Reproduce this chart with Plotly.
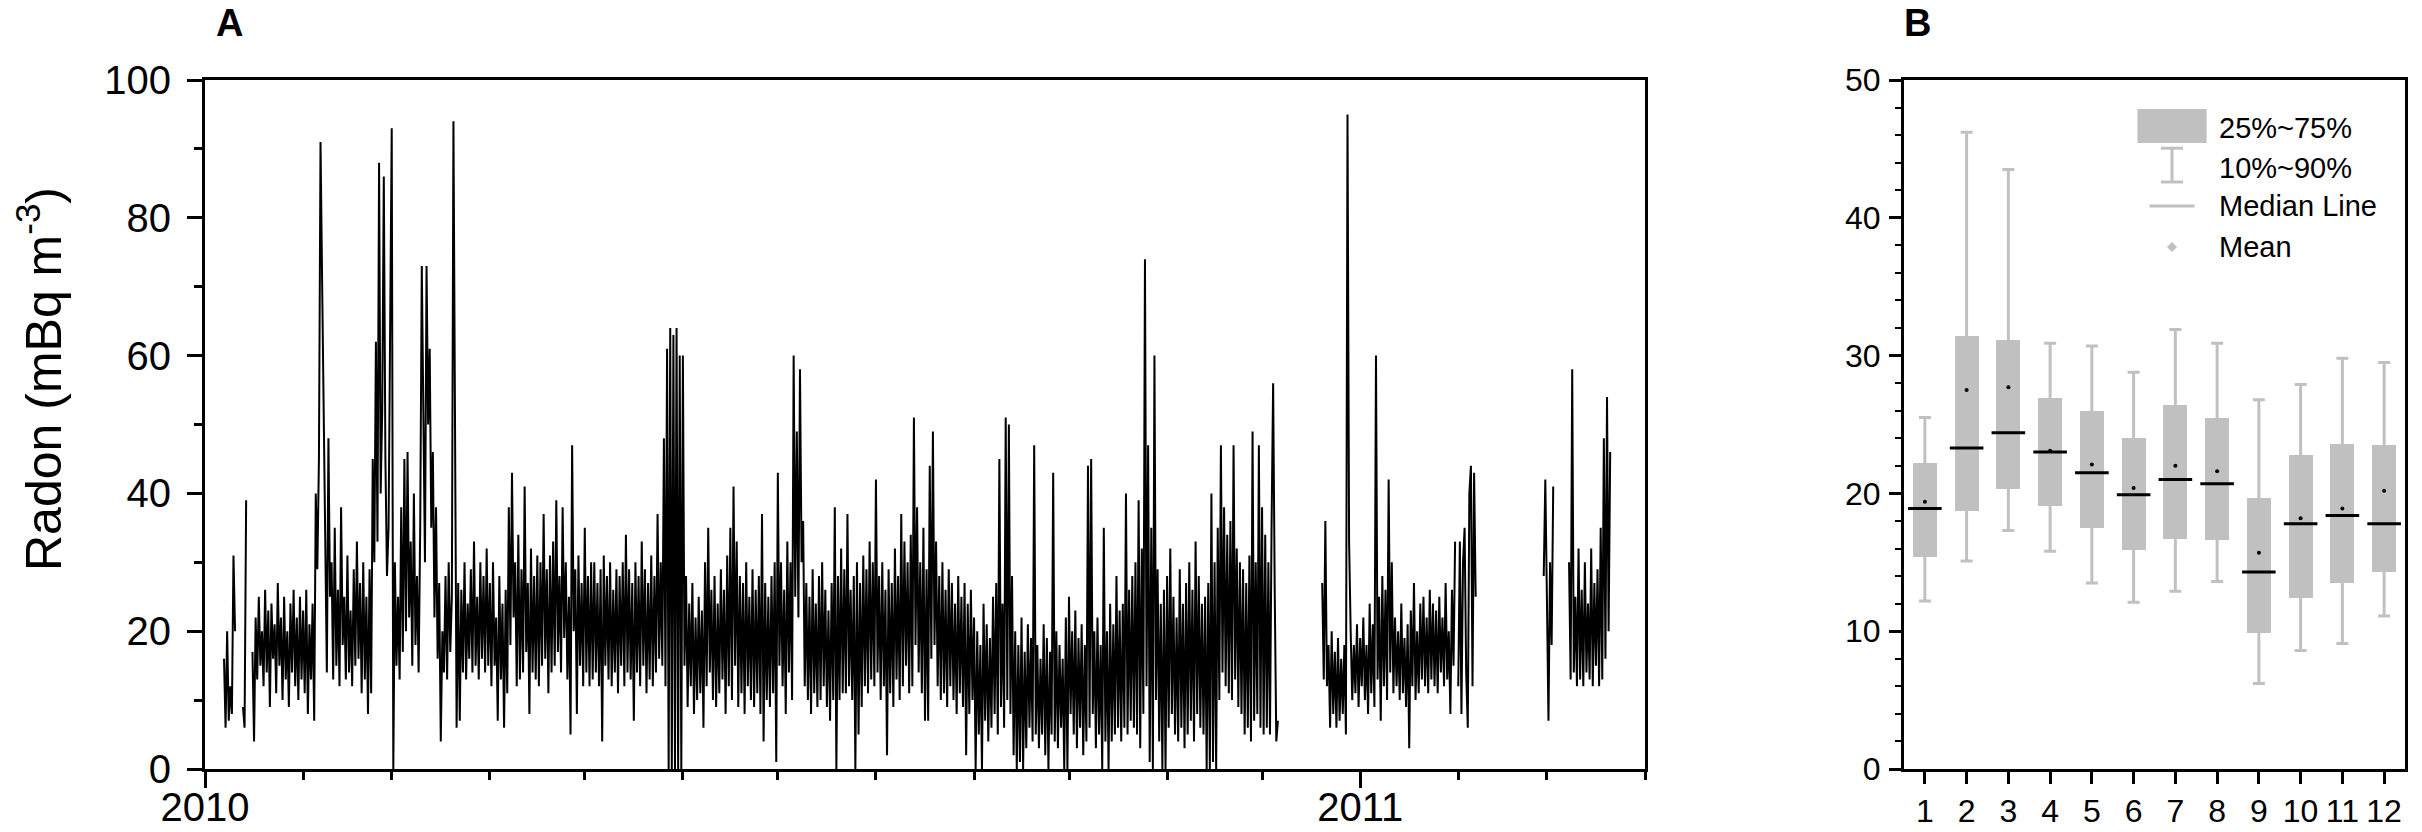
import pandas as pd
import plotly.graph_objects as go

# Panel A: radon time series at 12 h steps (None = no data)
jan10 = [None, None, None, None, None, None, None, None, None, None, None, None,
         16, 6, 20, 7, 12, 8, 31, 20, None, None, None, None, 9, 6, 39, None, None, None,
         17, 4, 22, 13, 25, 15, 20, 12, 26, 14, 23, 9, 24, 16, 21, 11, 27, 15, 22, 10,
         25, 13, 20, 9, 24, 14, 26, 12, 22, 10, 25, 13]
feb10 = [23, 11, 26, 8, 21, 13, 24, 7, 40, 29, 45, 91, 71, 49, 30, 14, 48, 25, 30, 13,
         35, 15, 26, 12, 38, 18, 25, 13, 31, 14, 23, 12, 29, 15, 33, 16, 27, 11, 30, 13,
         25, 8, 29, 11, 45, 30, 62, 33, 88, 40, 52, 86, 45, 28, 35, 60]
mar10 = [93, 0, 30, 15, 25, 13, 38, 17, 45, 20, 46, 22, 33, 15, 40, 18, 28, 14, 35, 73,
         45, 30, 73, 50, 61, 35, 46, 22, 38, 16, 27, 4, 20, 14, 28, 13, 30, 17, 25, 94,
         50, 6, 27, 7, 26, 14, 30, 13, 24, 16, 29, 14, 33, 15, 25, 13, 30, 16, 28, 14,
         32, 15]
apr10 = [27, 12, 30, 15, 22, 7, 28, 13, 24, 6, 26, 11, 38, 18, 43, 22, 30, 12, 34, 13,
         29, 14, 41, 17, 27, 8, 32, 14, 28, 13, 31, 12, 30, 15, 37, 16, 29, 11, 31, 14,
         33, 15, 39, 17, 28, 14, 38, 19, 30, 13, 25, 5, 47, 20, 29, 8, 31, 15, 27, 12]
may10 = [35, 14, 28, 12, 30, 13, 30, 14, 27, 12, 29, 4, 31, 15, 28, 13, 30, 12, 26, 14,
         29, 11, 28, 15, 30, 12, 34, 14, 29, 13, 27, 7, 30, 14, 28, 12, 33, 15, 29, 11,
         27, 13, 31, 12, 28, 14, 37, 16, 30, 15, 48, 12, 61, 0, 64, 0, 63, 0, 64, 0,
         60, 0]
jun10 = [60, 15, 28, 9, 24, 12, 27, 8, 22, 10, 25, 11, 23, 6, 30, 12, 35, 14, 26, 10,
         28, 9, 24, 11, 29, 13, 26, 8, 31, 12, 35, 10, 41, 15, 33, 9, 28, 11, 27, 8,
         30, 12, 25, 10, 29, 9, 26, 11, 28, 8, 37, 4, 27, 10, 25, 9, 28, 11, 30, 1]
jul10 = [43, 15, 30, 12, 26, 8, 33, 14, 30, 10, 60, 25, 49, 22, 58, 30, 36, 12, 27, 10,
         25, 8, 29, 11, 24, 9, 28, 10, 30, 12, 26, 9, 23, 7, 27, 10, 38, 0, 28, 10,
         32, 11, 29, 11, 37, 12, 26, 10, 28, 0, 30, 5, 27, 9, 31, 12, 29, 11, 33, 13,
         30, 12]
aug10 = [42, 14, 28, 10, 30, 12, 26, 2, 29, 11, 27, 9, 32, 13, 28, 10, 37, 12, 33, 15,
         30, 11, 34, 12, 51, 18, 38, 14, 30, 11, 35, 7, 29, 7, 44, 16, 49, 18, 33, 12,
         28, 10, 30, 11, 26, 9, 29, 12, 27, 10, 24, 8, 28, 11, 25, 9, 27, 2, 24, 8,
         26, 10]
sep10 = [22, 0, 20, 5, 18, 0, 24, 7, 21, 4, 19, 6, 25, 8, 27, 5, 45, 9, 24, 6,
         51, 10, 50, 8, 28, 2, 20, 0, 18, 1, 22, 0, 17, 3, 21, 6, 19, 4, 47, 5,
         18, 3, 16, 5, 21, 2, 19, 0, 17, 5, 43, 4, 20, 3, 18, 6, 16, 0, 22, 0]
oct10 = [25, 8, 20, 5, 23, 3, 19, 6, 21, 2, 18, 4, 44, 6, 45, 8, 20, 3, 22, 5,
         18, 0, 35, 4, 20, 0, 24, 4, 21, 5, 28, 6, 23, 4, 24, 6, 40, 5, 26, 7,
         28, 6, 30, 5, 39, 3, 32, 8, 74, 12, 47, 1, 35, 0, 60, 10, 29, 4, 24, 0,
         26, 0]
nov10 = [28, 6, 32, 8, 25, 5, 22, 4, 29, 6, 24, 3, 27, 5, 30, 7, 26, 4, 33, 8,
         28, 6, 24, 5, 25, 0, 27, 0, 40, 1, 30, 0, 35, 10, 47, 14, 38, 12, 34, 11,
         36, 10, 47, 13, 32, 9, 30, 8, 29, 5, 27, 6, 31, 4, 49, 7, 30, 8, 47, 6]
dec10 = [38, 5, 34, 6, 30, 5, 35, 56, 26, 4, 7, None,
         None, None, None, None, None, None, None, None, None, None, None, None, None,
         None, None, None, None, None, None, None, None, None, None, None, None, None,
         27, 13, 36, 12, 18, 6, 20, 8, 17, 6, 19, 7, 16, 8, 18, 5, 95, 33, 20, 10,
         18, 11, 21, 9]
jan11 = [19, 12, 22, 10, 18, 8, 24, 11, 21, 9, 60, 13, 25, 7, 28, 12, 26, 10, 42, 14,
         30, 11, 22, 12, 20, 10, 24, 11, 19, 9, 21, 3, 23, 12, 27, 10, 20, 11, 24, 13,
         25, 12, 22, 11, 26, 13, 24, 12, 23, 11, 25, 14, 22, 12, 27, 13, 20, 8, 26, 15,
         33, None]
feb11 = [12, 33, 8, 30, 35, 14, 6, 40, 44, 12, 43, 25,
         None, None, None, None, None, None, None, None, None, None, None, None, None, None,
         None, None, None, None, None, None, None, None, None, None, None, None, None, None,
         None, None, None, None, None, None, None, None, None, None, None, None, None, None,
         28, 42]
mar11 = [25, 7, 30, 18, 41, None, None, None, None, None, None, None, None, None,
         30, 13, 58, 14, 25, 12, 32, 13, 26, 12, 30, 14, 24, 13, 32, 12, 27, 15, 29, 12,
         35, 13, 48, 16, 54, 20, 46, None]

month_starts = ["2010-01-01", "2010-02-01", "2010-03-01", "2010-04-01", "2010-05-01",
                "2010-06-01", "2010-07-01", "2010-08-01", "2010-09-01", "2010-10-01",
                "2010-11-01", "2010-12-01", "2011-01-01", "2011-02-01", "2011-03-01"]
month_values = [jan10, feb10, mar10, apr10, may10, jun10, jul10, aug10, sep10,
                oct10, nov10, dec10, jan11, feb11, mar11]

# Panel B: monthly box statistics
months = [1, 2, 3, 4, 5, 6, 7, 8, 9, 10, 11, 12]
p10 = [12.2, 15.1, 17.3, 15.8, 13.5, 12.1, 12.9, 13.6, 6.2, 8.6, 9.1, 11.1]
q1 = [15.4, 18.75, 20.3, 19.1, 17.5, 15.9, 16.7, 16.6, 9.9, 12.4, 13.5, 14.3]
median = [18.9, 23.3, 24.4, 23.0, 21.5, 19.9, 21.0, 20.7, 14.3, 17.8, 18.4, 17.8]
mean = [19.4, 27.5, 27.7, 23.1, 22.1, 20.4, 22.0, 21.6, 15.7, 18.2, 18.9, 20.2]
q3 = [22.2, 31.4, 31.1, 26.9, 26.0, 24.0, 26.4, 25.5, 19.7, 22.8, 23.6, 23.5]
p90 = [25.5, 46.2, 43.5, 30.9, 30.7, 28.8, 31.9, 30.9, 26.8, 27.9, 29.8, 29.5]

legend_labels = ["25%~75%", "10%~90%", "Median Line", "Mean"]

FONT = "Liberation Sans, Arial, sans-serif"
GRAY = "#c0c0c0"

times, radon = [], []
for start, vals in zip(month_starts, month_values):
    times += list(pd.date_range(start, periods=len(vals), freq="12h"))
    radon += vals

fig = go.Figure()

fig.add_trace(go.Scatter(x=times, y=radon, mode="lines", connectgaps=False,
                         line=dict(color="black", width=2.0),
                         xaxis="x", yaxis="y", showlegend=False))

box_h = [b - a for a, b in zip(q1, q3)]
fig.add_trace(go.Bar(x=months, y=box_h, base=q1, width=0.57,
                     marker=dict(color=GRAY, line=dict(width=0)),
                     xaxis="x2", yaxis="y2", showlegend=False))

err_up = [b - a for a, b in zip(median, p90)]
err_dn = [a - b for a, b in zip(median, p10)]
fig.add_trace(go.Scatter(x=months, y=median, mode="markers",
                         marker=dict(size=1, opacity=0),
                         error_y=dict(type="data", symmetric=False, array=err_up,
                                      arrayminus=err_dn, color=GRAY,
                                      thickness=3, width=6),
                         xaxis="x2", yaxis="y2", showlegend=False))

fig.add_trace(go.Scatter(x=months, y=median, mode="markers",
                         marker=dict(symbol="line-ew", size=24,
                                     line=dict(color="black", width=3)),
                         xaxis="x2", yaxis="y2", showlegend=False))

fig.add_trace(go.Scatter(x=months, y=mean, mode="markers",
                         marker=dict(symbol="circle", size=4, color="black"),
                         xaxis="x2", yaxis="y2", showlegend=False))

axis_common = dict(showline=True, linecolor="black", linewidth=3, mirror=True,
                   showgrid=False, zeroline=False, ticks="outside",
                   tickcolor="black", tickwidth=3, automargin=False)

fig.update_layout(
    width=2422, height=832,
    margin=dict(l=0, r=0, t=0, b=0, autoexpand=False),
    paper_bgcolor="white", plot_bgcolor="white",
    font=dict(family=FONT, color="black"),
    bargap=0,
    xaxis=dict(domain=[205 / 2422, 1645 / 2422], anchor="y", type="date",
               range=["2010-01-01", "2011-04-01"], dtick="M12", tick0="2010-01-01",
               tickformat="%Y", ticklen=16, ticklabelstandoff=-15,
               tickfont=dict(size=40),
               minor=dict(dtick="M1", ticks="outside", ticklen=8,
                          tickwidth=3, tickcolor="black"),
               **axis_common),
    yaxis=dict(domain=[1 - 769 / 832, 1 - 80 / 832], anchor="x",
               range=[0, 100], dtick=20, ticklen=15, ticklabelstandoff=8,
               tickfont=dict(size=40),
               minor=dict(dtick=10, ticks="outside", ticklen=8,
                          tickwidth=3, tickcolor="black"),
               **axis_common),
    xaxis2=dict(domain=[1904 / 2422, 2405 / 2422], anchor="y2",
                range=[0.5, 12.5], tickvals=months, ticklen=12,
                ticklabelstandoff=0, tickfont=dict(size=32),
                **axis_common),
    yaxis2=dict(domain=[1 - 769 / 832, 1 - 80 / 832], anchor="x2",
                range=[0, 50], dtick=10, ticklen=12, ticklabelstandoff=2,
                tickfont=dict(size=32),
                minor=dict(dtick=2, ticks="outside", ticklen=6,
                           tickwidth=2, tickcolor="black"),
                **axis_common),
)

# panel letters and y title
fig.add_annotation(text="<b>A</b>", x=214 / 2422, y=1.0, xref="paper", yref="paper",
                   xanchor="left", yanchor="top", showarrow=False, font=dict(size=38))
fig.add_annotation(text="<b>B</b>", x=1902 / 2422, y=1.0, xref="paper", yref="paper",
                   xanchor="left", yanchor="top", showarrow=False, font=dict(size=38))
fig.add_annotation(text="Radon (mBq m<sup>-3</sup>)", textangle=-90,
                   x=40 / 2422, y=1 - 379 / 832, xref="paper", yref="paper",
                   xanchor="center", yanchor="middle", showarrow=False,
                   font=dict(size=50))

# hand-drawn legend in panel B
xr, yr = "x2 domain", "y2 domain"
fig.add_shape(type="rect", xref=xr, yref=yr, x0=0.466, x1=0.604, y0=0.9086, y1=0.958,
              fillcolor=GRAY, line=dict(width=0))
fig.add_shape(type="line", xref=xr, yref=yr, x0=0.535, x1=0.535, y0=0.852, y1=0.901,
              line=dict(color=GRAY, width=3))
fig.add_shape(type="line", xref=xr, yref=yr, x0=0.513, x1=0.557, y0=0.901, y1=0.901,
              line=dict(color=GRAY, width=3))
fig.add_shape(type="line", xref=xr, yref=yr, x0=0.513, x1=0.557, y0=0.852, y1=0.852,
              line=dict(color=GRAY, width=3))
fig.add_shape(type="line", xref=xr, yref=yr, x0=0.490, x1=0.580, y0=0.817, y1=0.817,
              line=dict(color=GRAY, width=3))
fig.add_shape(type="path", xref=xr, yref=yr,
              path="M 0.525 0.7576 L 0.535 0.7649 L 0.545 0.7576 L 0.535 0.7503 Z",
              fillcolor=GRAY, line=dict(width=0))
for label, ly in zip(legend_labels, [0.9303, 0.8723, 0.817, 0.7576]):
    fig.add_annotation(text=label, xref=xr, yref=yr, x=0.625, y=ly,
                       xanchor="left", yanchor="middle", showarrow=False,
                       font=dict(size=29))

fig.write_html("out.html", config={"displayModeBar": False},
               post_script="document.body.style.margin='0';")
